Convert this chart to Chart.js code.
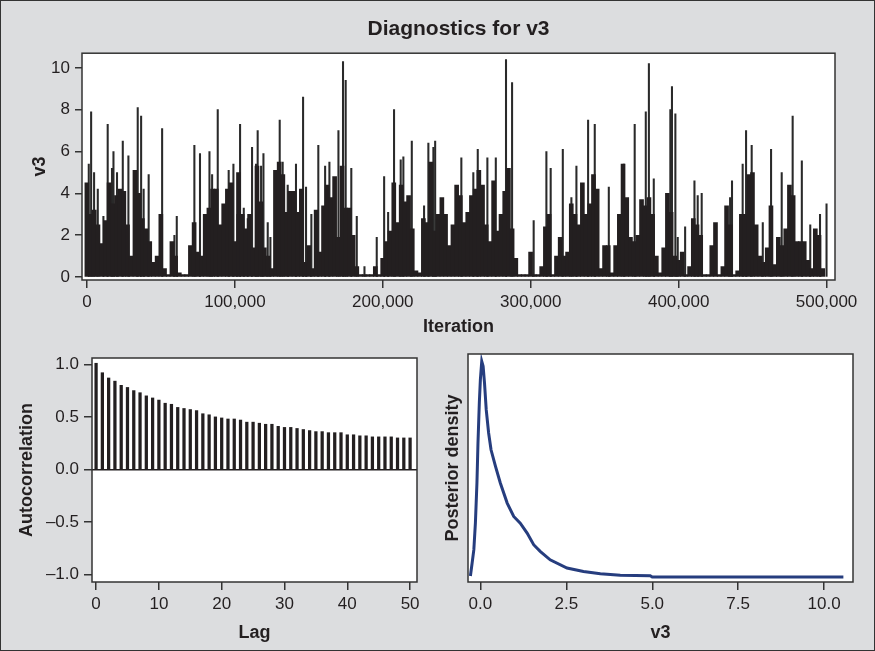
<!DOCTYPE html>
<html>
<head>
<meta charset="utf-8">
<script src="https://cdn.jsdelivr.net/npm/chart.js@4.4.1/dist/chart.umd.min.js"></script>
<style>
  body { margin: 0; }
  #frame { position: relative; width: 875px; height: 651px; background: #dcdddf; box-shadow: inset 0 0 0 1px #333; }
  canvas { position: absolute; }
</style>
</head>
<body>
<div id="frame">
  <canvas id="Trace_chart" width="875" height="340" style="left:0;top:0"></canvas>
  <canvas id="Acf_chart" width="437" height="311" style="left:0;top:340px"></canvas>
  <canvas id="Density_chart" width="438" height="311" style="left:437px;top:340px"></canvas>
</div>
<script>
// trace: dense part of the chain, one value per block of 2,500 iterations
const trace_bin = 2500
const trace_body = [
  4.5, 3.0, 3.2, 2.5, 1.6, 2.7, 4.5, 3.5, 3.9, 4.2,
  4.1, 2.5, 1.0, 5.1, 4.0, 2.8, 2.3, 1.7, 0.7, 1.0,
  3.0, 0.4, 0.12, 1.7, 1.0, 0.2, 0.12, 0.12, 1.5, 2.6,
  1.2, 1.0, 3.0, 3.3, 4.2, 4.2, 2.5, 3.5, 4.2, 4.5,
  1.7, 5.0, 3.0, 2.3, 3.0, 1.4, 5.3, 3.6, 1.4, 1.0,
  0.4, 5.1, 5.5, 4.9, 3.1, 4.1, 4.1, 3.1, 4.2, 0.7,
  1.5, 0.4, 3.2, 1.2, 3.4, 4.4, 3.8, 4.8, 1.9, 5.3,
  3.3, 3.3, 2.0, 0.5, 0.12, 0.12, 0.12, 0.12, 0.5, 0.12,
  0.9, 1.7, 2.2, 4.5, 2.6, 4.4, 3.6, 3.9, 2.3, 0.3,
  0.2, 2.8, 2.6, 5.5, 2.2, 3.0, 3.8, 3.0, 1.5, 2.5,
  4.4, 3.9, 2.6, 3.1, 3.9, 4.2, 5.1, 4.4, 2.5, 1.7,
  4.6, 2.2, 3.0, 4.1, 5.2, 2.3, 0.9, 0.12, 0.12, 0.12,
  1.2, 0.12, 0.12, 0.5, 2.4, 3.0, 0.12, 1.0, 1.9, 1.0,
  1.2, 3.5, 3.0, 2.5, 4.5, 3.0, 3.5, 4.9, 4.2, 0.4,
  1.5, 1.5, 0.2, 1.5, 3.0, 5.4, 3.8, 1.9, 1.7, 2.0,
  3.7, 3.4, 3.8, 3.0, 1.0, 0.2, 1.4, 4.0, 3.1, 1.0,
  0.8, 1.2, 0.12, 0.5, 2.8, 2.5, 2.0, 0.12, 0.12, 1.5,
  2.6, 0.12, 0.5, 3.4, 2.5, 0.12, 0.3, 3.0, 3.0, 4.9,
  5.0, 2.5, 1.0, 0.7, 1.4, 3.4, 0.6, 1.9, 1.5, 2.3,
  4.4, 3.9, 1.7, 1.7, 1.7, 0.8, 0.4, 2.3, 2.0, 0.4
]
// trace: single tall draws (iteration, value)
const spike_iter = [
  700, 2300, 4300, 6800, 10600, 13500, 16400, 17400, 19800, 23700,
  27500, 33800, 36100, 37800, 41200, 50300, 58600, 60200, 72100, 75900,
  82300, 84100, 87900, 95300, 98500, 101200, 103000, 105500, 108200, 111100,
  113800, 114900, 117200, 118800, 121700, 123500, 129800, 131800, 135200, 140800,
  145600, 147600, 151200, 155900, 160500, 163400, 169500, 172600, 174400, 178200,
  181900, 187100, 195400, 200400, 203100, 207100, 211600, 213400, 219100, 227400,
  230300, 233700, 234900, 252600, 260700, 263700, 270200, 275900, 282800, 286900,
  301500, 310100, 313000, 321200, 327000, 330400, 338300, 342800, 352300, 362400,
  369800, 377300, 379400, 382700, 393900, 395000, 397300, 398900, 403900, 410200,
  412400, 415100, 434300, 435600, 442800, 445100, 448900, 456400, 462000, 469200,
  476600, 482800, 488500, 495100, 499500
]
const spike_value = [
  5.4, 7.9, 5.0, 4.2, 2.9, 7.3, 5.2, 6.0, 5.0, 6.5,
  5.8, 8.1, 7.7, 4.2, 4.9, 7.1, 2.0, 2.9, 6.3, 5.9,
  6.0, 4.9, 8.0, 5.1, 5.4, 3.0, 7.3, 3.3, 2.8, 6.2,
  5.4, 7.0, 5.3, 5.9, 2.6, 1.9, 7.5, 5.5, 4.4, 5.4,
  8.6, 4.3, 3.0, 6.3, 5.3, 5.5, 7.0, 10.3, 9.4, 5.2,
  2.9, 0.5, 1.9, 4.8, 3.1, 8.0, 5.6, 5.75, 6.5, 3.4,
  6.4, 6.2, 6.5, 5.7, 5.0, 6.1, 5.7, 5.7, 10.4, 9.3,
  2.7, 6.0, 5.2, 6.1, 3.8, 5.3, 7.5, 7.3, 4.3, 5.4,
  7.3, 7.9, 10.2, 4.7, 8.0, 9.1, 7.8, 1.9, 2.4, 4.6,
  3.9, 4.0, 3.8, 4.6, 5.4, 7.0, 6.3, 2.6, 6.1, 5.0,
  7.7, 5.55, 2.5, 3.0, 3.5
]
const trace_x_ticks = [0, 100000, 200000, 300000, 400000, 500000]
const trace_y_ticks = [0, 2, 4, 6, 8, 10]

// autocorrelation by lag
const acf_lags = Array.from({length: 51}, (_, i) => i)
const acf_values = [
  1.01, 0.92, 0.87, 0.84, 0.80, 0.78, 0.75, 0.73, 0.70, 0.68,
  0.66, 0.63, 0.62, 0.59, 0.58, 0.57, 0.56, 0.53, 0.52, 0.50,
  0.49, 0.48, 0.48, 0.47, 0.45, 0.45, 0.44, 0.43, 0.43, 0.41,
  0.40, 0.40, 0.39, 0.38, 0.37, 0.36, 0.36, 0.35, 0.35, 0.35,
  0.33, 0.33, 0.32, 0.32, 0.31, 0.31, 0.31, 0.31, 0.30, 0.30,
  0.30
]
const acf_x_ticks = [0, 10, 20, 30, 40, 50]
const acf_y_ticks = [-1, -0.5, 0, 0.5, 1]

// posterior density of v3
const density_x = [-0.29, -0.24, -0.19, -0.145, -0.1, -0.07, -0.03, 0.0, 0.04, 0.08,
  0.12, 0.17, 0.24, 0.31, 0.44, 0.58, 0.78, 0.97, 1.16, 1.36,
  1.55, 1.74, 2.03, 2.52, 3.0, 3.49, 4.07, 4.94, 5.0, 10.56]
const density_y = [0.005, 0.065, 0.127, 0.25, 0.436, 0.62, 0.81, 0.915, 1.0, 0.977,
  0.9, 0.776, 0.668, 0.59, 0.513, 0.436, 0.343, 0.281, 0.25, 0.204,
  0.15, 0.119, 0.08, 0.042, 0.026, 0.015, 0.008, 0.006, 0.0, 0.0]
const density_x_ticks = [0, 2.5, 5, 7.5, 10]

Chart.defaults.font.family = "'Liberation Sans', Arial, sans-serif"
Chart.defaults.font.size = 17
Chart.defaults.color = '#231f20'

// white plot area with a dark frame
const plot_box = {
  id: 'plot_box',
  beforeDraw(chart) {
    const a = chart.chartArea, ctx = chart.ctx
    ctx.save()
    ctx.fillStyle = '#ffffff'
    ctx.fillRect(a.left, a.top, a.right - a.left, a.bottom - a.top)
    ctx.restore()
  },
  afterDraw(chart) {
    const a = chart.chartArea, ctx = chart.ctx
    ctx.save()
    ctx.strokeStyle = '#333'
    ctx.lineWidth = 1.5
    ctx.strokeRect(a.left, a.top, a.right - a.left, a.bottom - a.top)
    ctx.restore()
  }
}

const axis_title_font = {size: 18, weight: 'bold'}
const tick_grid = {drawOnChartArea: false, tickLength: 8, tickColor: '#333', lineWidth: 1.5, offset: false}
const set_ticks = vals => scale => { scale.ticks = vals.map(v => ({value: v})) }
const shared_plugins = {legend: {display: false}, tooltip: {enabled: false}}

let trace_document = document.getElementById('Trace_chart').getContext('2d')
let trace_chart = new Chart(trace_document, {
  type: 'bar',
  data: {
    datasets: [{
      data: trace_body.map((v, i) => ({x: i * trace_bin + trace_bin / 2, y: v})),
      backgroundColor: '#231f20',
      barThickness: 4.0,
      xAxisID: 'x'
    }, {
      data: spike_iter.map((it, i) => ({x: it, y: spike_value[i]})),
      backgroundColor: '#2a2a2a',
      barThickness: 1.4,
      xAxisID: 'x2'
    }]
  },
  options: {
    responsive: false,
    animation: false,
    layout: {padding: {left: 0, right: 40, top: 0, bottom: 0}},
    plugins: {
      ...shared_plugins,
      title: {display: true, fullSize: false, text: 'Diagnostics for v3', font: {size: 21, weight: 'bold'}, color: '#231f20', padding: {top: 17, bottom: 11}}
    },
    scales: {
      x: {
        type: 'linear', min: -3400, max: 505700, offset: false,
        afterBuildTicks: set_ticks(trace_x_ticks),
        afterFit: s => { s.height = 60 },
        ticks: {maxRotation: 0, padding: 4, callback: v => Number(v).toLocaleString('en-US')},
        grid: tick_grid,
        border: {display: false},
        title: {display: true, text: 'Iteration', font: axis_title_font, padding: {top: 0, bottom: 2}}
      },
      x2: {type: 'linear', min: -3400, max: 505700, offset: false, display: false},
      y: {
        min: -0.14, max: 10.7,
        afterBuildTicks: set_ticks(trace_y_ticks),
        afterFit: s => { s.width = 82 },
        ticks: {padding: 5},
        grid: {...tick_grid, tickLength: 7},
        border: {display: false},
        title: {display: true, text: 'v3', font: axis_title_font, padding: {top: 29}}
      }
    }
  },
  plugins: [plot_box]
})

let acf_document = document.getElementById('Acf_chart').getContext('2d')
let acf_chart = new Chart(acf_document, {
  type: 'bar',
  data: {
    datasets: [{
      data: acf_lags.map((lag, i) => ({x: lag, y: acf_values[i]})),
      backgroundColor: '#231f20',
      barThickness: 2.6
    }]
  },
  options: {
    responsive: false,
    animation: false,
    layout: {padding: {left: 0, right: 20, top: 18, bottom: 0}},
    plugins: shared_plugins,
    scales: {
      x: {
        type: 'linear', min: -0.65, max: 51.1, offset: false,
        afterBuildTicks: set_ticks(acf_x_ticks),
        afterFit: s => { s.height = 69 },
        ticks: {maxRotation: 0, padding: 4},
        grid: tick_grid,
        border: {display: false},
        title: {display: true, text: 'Lag', font: axis_title_font, padding: {top: 0, bottom: 7}}
      },
      y: {
        min: -1.07, max: 1.06,
        afterBuildTicks: set_ticks(acf_y_ticks),
        afterFit: s => { s.width = 92 },
        ticks: {padding: 5, callback: v => (v < 0 ? '\u2013' : '') + Math.abs(v).toFixed(1)},
        grid: {drawOnChartArea: true, tickLength: 8, tickColor: '#333', lineWidth: 1.5,
               color: c => (c.tick && c.tick.value === 0) ? '#231f20' : 'rgba(0,0,0,0)'},
        border: {display: false},
        title: {display: true, text: 'Autocorrelation', font: axis_title_font, padding: {top: 16}}
      }
    }
  },
  plugins: [plot_box]
})

let density_document = document.getElementById('Density_chart').getContext('2d')
let density_chart = new Chart(density_document, {
  type: 'scatter',
  data: {
    datasets: [{
      data: density_x.map((x, i) => ({x: x, y: density_y[i]})),
      showLine: true,
      borderColor: '#263d7e',
      borderWidth: 3,
      pointRadius: 0,
      tension: 0
    }]
  },
  options: {
    responsive: false,
    animation: false,
    layout: {padding: {left: 0, right: 22, top: 14, bottom: 0}},
    plugins: shared_plugins,
    scales: {
      x: {
        type: 'linear', min: -0.36, max: 10.84,
        afterBuildTicks: set_ticks(density_x_ticks),
        afterFit: s => { s.height = 69 },
        ticks: {maxRotation: 0, padding: 4, callback: v => Number(v).toFixed(1)},
        grid: tick_grid,
        border: {display: false},
        title: {display: true, text: 'v3', font: axis_title_font, padding: {top: 0, bottom: 7}}
      },
      y: {
        min: -0.023, max: 1.034,
        afterFit: s => { s.width = 31 },
        ticks: {display: false},
        grid: {display: false},
        border: {display: false},
        title: {display: true, text: 'Posterior density', font: axis_title_font, padding: {top: 5}}
      }
    }
  },
  plugins: [plot_box]
})
</script>
</body>
</html>
